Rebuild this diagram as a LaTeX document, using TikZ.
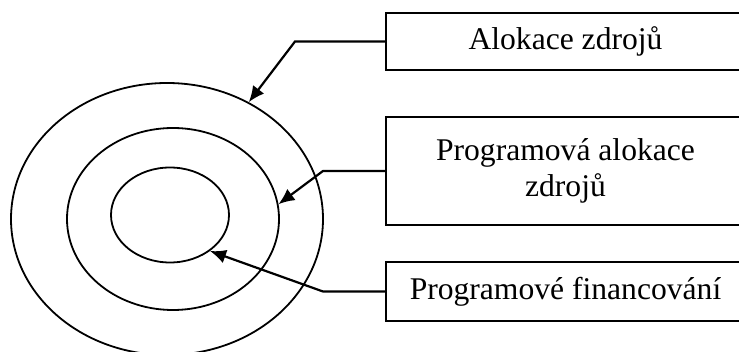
\documentclass[tikz,border=0pt]{standalone}
\usepackage{fontspec}
\setmainfont{Liberation Serif}
\usetikzlibrary{shapes.geometric,arrows.meta}

\begin{document}
\begin{tikzpicture}[x=0.5pt, y=-0.5pt,
		box_style/.style={rectangle,draw=black,line width=1.1pt,minimum width=179.5pt,align=center,inner sep=0pt,font=\fontsize{15.8}{18}\selectfont},
		ring_style/.style={ellipse,draw=black,line width=0.9pt,inner sep=0pt},
		arrow_style/.style={draw=black,line width=1.1pt,-{Latex[length=8pt,width=7pt]}}]
		
		\useasboundingbox (0,0) rectangle (739,352);
		\clip (0,0) rectangle (739,352);
		
		% rings
		\node[ring_style,minimum width=156pt,minimum height=136pt] (r0) at (167,219) {};
		\node[ring_style,minimum width=106pt,minimum height=91pt] (r1) at (173,219) {};
		\node[ring_style,minimum width=59pt,minimum height=47.5pt] (r2) at (170,215) {};
		
		% labels
		\node[box_style,minimum height=28.5pt] (b0) at (565.5,41.5) {Alokace zdrojů};
		\node[box_style,minimum height=54pt] (b1) at (565.5,171) {Programová alokace\\zdrojů};
		\node[box_style,minimum height=29.5pt] (b2) at (565.5,291.5) {Programové financování};
		
		\coordinate (c0) at (295,43);
		\coordinate (c1) at (323,168);
		\coordinate (c2) at (323,289);
		
		\draw[arrow_style] (b0.west) -- (b0.west -| c0) -- (r0.55);
		\draw[arrow_style] (b1.west) -- (b1.west -| c1) -- (r1.8);
		\draw[arrow_style] (b2.west) -- (b2.west -| c2) -- (r2.-42);
		\end{tikzpicture}
\end{document}
